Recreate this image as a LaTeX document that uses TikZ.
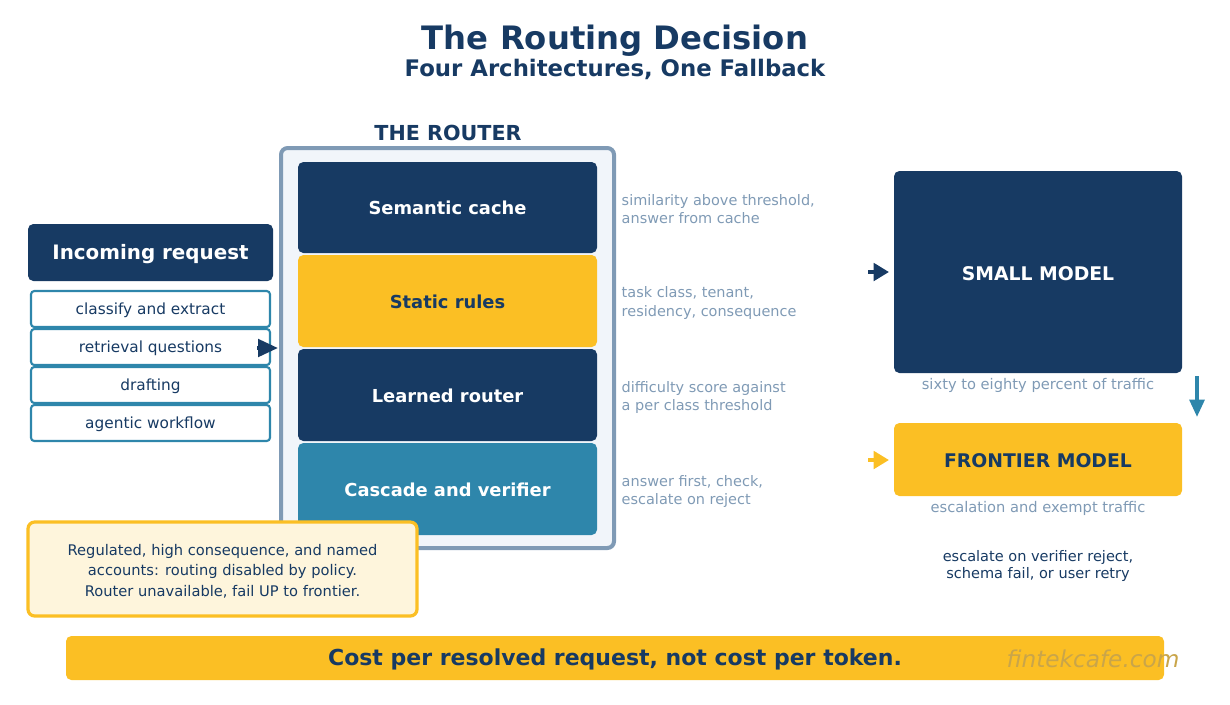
\documentclass[tikz,border=0pt]{standalone}
\usepackage{fontspec}
\setmainfont{DejaVu Sans}
\usetikzlibrary{arrows.meta}
\definecolor{navy}{HTML}{173A63}
\definecolor{gold}{HTML}{FBBF24}
\definecolor{teal}{HTML}{2E86AB}
\definecolor{slate}{HTML}{7F9AB5}
\definecolor{paleblue}{HTML}{F1F5FA}
\definecolor{cream}{HTML}{FEF5DC}
\definecolor{wm}{HTML}{C9A54A}
\tikzset{
  lbl/.style={font=\bfseries\fontsize{13.4}{16}\selectfont},
  item/.style={draw=teal, line width=1.6pt, fill=white, rounded corners=2.5pt},
  itemtxt/.style={text=navy, font=\fontsize{11.5}{14}\selectfont},
  side/.style={anchor=west, align=left, text=slate, font=\fontsize{10.85}{13.5}\selectfont},
  modelcap/.style={text=slate, font=\fontsize{11}{13}\selectfont},
  harrow/.style={line width=3pt, -{Triangle[length=11.5pt,width=13pt]}},
}
\begin{document}
\begin{tikzpicture}[x=0.75pt,y=-0.75pt]
\useasboundingbox (0,0) rectangle (1230,704);
% titles
\node[text=navy, font=\bfseries\fontsize{24.2}{28}\selectfont] (title) at (615,40.5) {The Routing Decision};
\node[text=navy, font=\bfseries\fontsize{17.1}{20}\selectfont] (sub) at (615,69) {Four Architectures, One Fallback};
\node[text=navy, font=\bfseries\fontsize{15.5}{18}\selectfont] (rt) at (448,132.5) {THE ROUTER};
% router container
\draw[draw=slate, fill=paleblue, line width=3pt, rounded corners=5pt] (281,148) rectangle (614,548);
\fill[navy, rounded corners=4pt] (298,162) rectangle (597,253);
\node[text=white, lbl] (sc) at (447.5,208) {Semantic cache};
\fill[gold, rounded corners=4pt] (298,255) rectangle (597,347);
\node[text=navy, lbl] (sr) at (447.5,302) {Static rules};
\fill[navy, rounded corners=4pt] (298,349) rectangle (597,441);
\node[text=white, lbl] (lr) at (447.5,396) {Learned router};
\fill[teal, rounded corners=4pt] (298,443) rectangle (597,535);
\node[text=white, lbl] (cv) at (447.5,490) {Cascade and verifier};
% side texts
\node[side] (s1) at (617,209) {similarity above threshold,\\answer from cache};
\node[side] (s2) at (617,303) {task class, tenant,\\residency, consequence};
\node[side] (s3) at (617,397) {difficulty score against\\a per class threshold};
\node[side] (s4) at (617,491) {answer first, check,\\escalate on reject};
% incoming
\fill[navy, rounded corners=4pt] (28,224) rectangle (273,281);
\node[text=white, font=\bfseries\fontsize{14.9}{18}\selectfont] (inc) at (150.5,254) {Incoming request};
\draw[item] (31,291) rectangle (270,327);
\node[itemtxt] (i1) at (150.5,310) {classify and extract};
\draw[item] (31,329) rectangle (270,365);
\node[itemtxt] (i2) at (150.5,348) {retrieval questions};
\draw[item] (31,367) rectangle (270,403);
\node[itemtxt] (i3) at (150.5,386) {drafting};
\draw[item] (31,405) rectangle (270,441);
\node[itemtxt] (i4) at (150.5,424) {agentic workflow};
\coordinate (a1s) at (257,348);
\coordinate (a1e) at (278,348);
\draw[navy, line width=3pt, -{Triangle[length=15pt,width=13pt]}] (a1s) -- (a1e);
% models
\fill[navy, rounded corners=4pt] (894,171) rectangle (1182,373);
\node[text=white, font=\bfseries\fontsize{14.1}{17}\selectfont] (sm) at (1038,274) {SMALL MODEL};
\node[modelcap] (smc) at (1038,385) {sixty to eighty percent of traffic};
\coordinate (a2s) at (868,272);
\coordinate (a2e) at (889,272);
\draw[harrow, navy] (a2s) -- (a2e);
\fill[gold, rounded corners=4pt] (894,423) rectangle (1182,496);
\node[text=navy, font=\bfseries\fontsize{14.1}{17}\selectfont] (fm) at (1038,461) {FRONTIER MODEL};
\node[modelcap] (fmc) at (1038,508) {escalation and exempt traffic};
\coordinate (a3s) at (868,460);
\coordinate (a3e) at (889,460);
\draw[harrow, gold] (a3s) -- (a3e);
\coordinate (d1) at (1197,376);
\coordinate (d2) at (1197,417);
\draw[teal, line width=2.8pt, -{Triangle[length=13pt,width=11pt]}] (d1) -- (d2);
\node[text=navy, align=center, font=\fontsize{10.9}{13}\selectfont] (esc) at (1038,566) {escalate on verifier reject,\\schema fail, or user retry};
% note
\draw[draw=gold, fill=cream, line width=2.4pt, rounded corners=5pt] (28,522) rectangle (417,616);
\node[text=navy, align=center, font=\fontsize{11}{15.5}\selectfont] (note) at (222.5,571) {Regulated, high consequence, and named\\accounts: routing disabled by policy.\\Router unavailable, fail UP to frontier.};
% bottom bar
\fill[gold, rounded corners=4pt] (66,636) rectangle (1164,680);
\node[text=navy, font=\bfseries\fontsize{16.5}{19}\selectfont] (cost) at (615,659) {Cost per resolved request, not cost per token.};
\node[text=wm, font=\itshape\fontsize{17.4}{20}\selectfont] (wmk) at (1093,659) {fintekcafe.com};
\end{tikzpicture}
\end{document}
